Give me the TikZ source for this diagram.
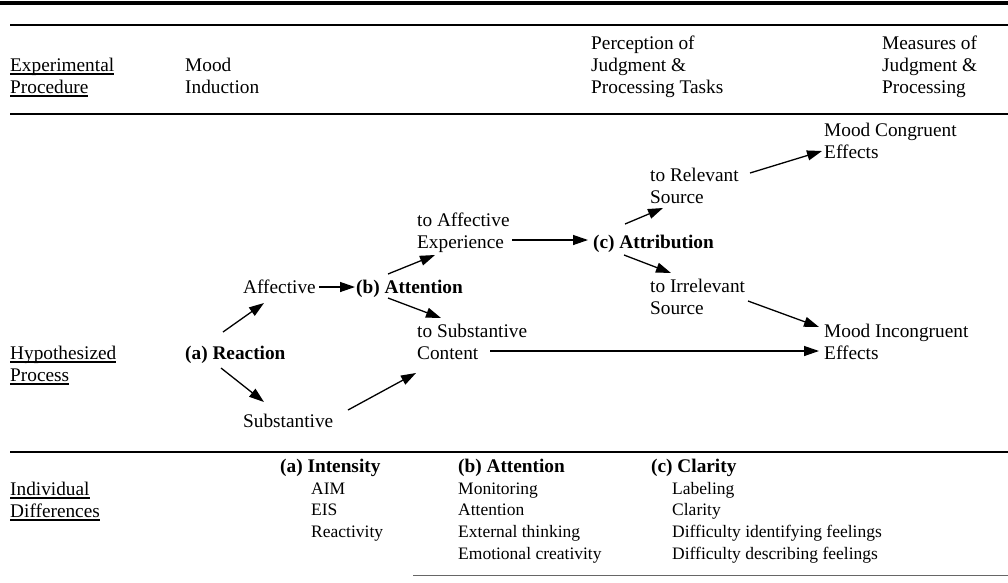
\documentclass[tikz,border=0pt]{standalone}
\usepackage{fontspec}
\setmainfont{Liberation Serif}
\usetikzlibrary{arrows.meta}
\newcommand\mainsz{\fontsize{19.3}{22}\selectfont}
\newcommand\itemsz{\fontsize{17.5}{21.7}\selectfont}
\newcommand\undl[1]{\setbox0\hbox{#1}\rlap{\rule[-3.5pt]{\wd0}{1.1pt}}#1}
\tikzset{
  lbl/.style={anchor=base west, inner sep=0pt, align=left, font=\mainsz},
  lst/.style={lbl, font=\itemsz},
  arr/.style={-{Triangle[length=15pt,width=10pt]}, line width=1.3pt},
  rule/.style={line width=1.2pt},
}
\begin{document}
\begin{tikzpicture}[x=1pt,y=-1pt]
\useasboundingbox (0,0) rectangle (1008,582);
% rules of the table
\draw[line width=3.5pt] (0,3) -- (1008,3);
\draw[rule] (10,25) -- (1008,25);
\draw[rule] (10,114) -- (1008,114);
\draw[rule] (10,452) -- (1008,452);
\draw[line width=0.9pt, black!60] (413,575) -- (1008,575);

% header row (base = last line)
\node[lbl] (exp) at (10,93) {\undl{Experimental}\\\undl{Procedure}};
\node[lbl] (mood) at (185,93) {Mood\\Induction};
\node[lbl] (perc) at (591,93) {Perception of\\Judgment \&\\Processing Tasks};
\node[lbl] (meas) at (882,93) {Measures of\\Judgment \&\\Processing};

% hypothesized process
\node[lbl] (hyp) at (10,381) {\undl{Hypothesized}\\\undl{Process}};
\node[lbl] (react) at (185,359) {\textbf{(a) Reaction}};
\node[lbl] (affect) at (243,293) {Affective};
\node[lbl] (subst) at (243,427) {Substantive};
\node[lbl] (attn) at (356,293) {\textbf{(b) Attention}};
\node[lbl] (toaff) at (417,248) {to Affective\\Experience};
\node[lbl] (tosub) at (417,359) {to Substantive\\Content};
\node[lbl] (attr) at (593,248) {\textbf{(c) Attribution}};
\node[lbl] (torel) at (650,203) {to Relevant\\Source};
\node[lbl] (toirr) at (650,314) {to Irrelevant\\Source};
\node[lbl] (congr) at (824,158) {Mood Congruent\\Effects};
\node[lbl] (incongr) at (824,359) {Mood Incongruent\\Effects};

\draw[arr] ([shift={(38,-27)}]react.base west) -- ([shift={(21,10)}]affect.base west);
\draw[arr] ([shift={(36,9)}]react.base west) -- ([shift={(21,-25)}]subst.base west);
\draw[arr] ([shift={(76,-6)}]affect.base west) -- ([shift={(-1,-6)}]attn.base west);
\draw[arr] ([shift={(32,-19)}]attn.base west) -- ([shift={(18,7)}]toaff.base west);
\draw[arr] ([shift={(32,5)}]attn.base west) -- ([shift={(24,-41)}]tosub.base west);
\draw[arr] ([shift={(95,-8)}]toaff.base west) -- ([shift={(-5,-8)}]attr.base west);
\draw[arr] ([shift={(105,-17)}]subst.base west) -- ([shift={(-1,14)}]tosub.base west);
\draw[arr] ([shift={(73,-8)}]tosub.base west) -- ([shift={(-5,-8)}]incongr.base west);
\draw[arr] ([shift={(32,-24)}]attr.base west) -- ([shift={(13,5)}]torel.base west);
\draw[arr] ([shift={(31,7)}]attr.base west) -- ([shift={(21,-41)}]toirr.base west);
\draw[arr] ([shift={(100,-30)}]torel.base west) -- ([shift={(-2,-7)}]congr.base west);
\draw[arr] ([shift={(98,-13)}]toirr.base west) -- ([shift={(-5,-32)}]incongr.base west);

% individual differences
\node[lbl] (indiv) at (10,517) {\undl{Individual}\\\undl{Differences}};
\node[lbl] (inten) at (280,472) {\textbf{(a) Intensity}};
\node[lst] (intenlst) at (311,537.4) {AIM\\EIS\\Reactivity};
\node[lbl] (attnd) at (458,472) {\textbf{(b) Attention}};
\node[lst] (attnlst) at (458,559.1) {Monitoring\\Attention\\External thinking\\Emotional creativity};
\node[lbl] (clar) at (651,472) {\textbf{(c) Clarity}};
\node[lst] (clarlst) at (672,559.1) {Labeling\\Clarity\\Difficulty identifying feelings\\Difficulty describing feelings};
\end{tikzpicture}
\end{document}
